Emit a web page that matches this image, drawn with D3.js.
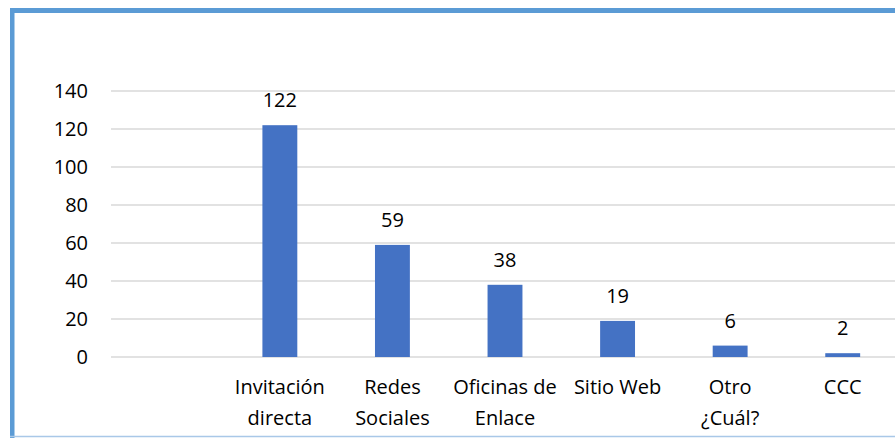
<!DOCTYPE html>
<html>
<head>
<meta charset="utf-8">
<script src="https://cdn.jsdelivr.net/npm/d3@7"></script>
<style>
  body { margin: 0; background: #fff; }
  svg { display: block; font-family: "Open Sans", Lato, sans-serif; }
</style>
</head>
<body>
<div id="chart"></div>
<script>
// categories (first slot is empty in the original chart)
var categories = ["", "Invitación\ndirecta", "Redes\nSociales", "Oficinas de\nEnlace", "Sitio Web", "Otro\n¿Cuál?", "CCC"];
var values = [null, 122, 59, 38, 19, 6, 2];
var yTicks = [0, 20, 40, 60, 80, 100, 120, 140];

var width = 895, height = 438;
var margin = {top: 91, left: 111, bottom: 81};
var plotW = 788;                       // runs past the right edge like the original
var plotH = height - margin.top - margin.bottom;
var fontSize = 20;

var svg = d3.select("#chart").append("svg")
    .attr("width", width)
    .attr("height", height);

// frame (left, top, bottom lines only)
svg.append("rect").attr("x", 10).attr("y", 8).attr("width", 4.5).attr("height", height - 8).attr("fill", "#5b9bd5");
svg.append("rect").attr("x", 10).attr("y", 8).attr("width", width - 10).attr("height", 5).attr("fill", "#5b9bd5");
svg.append("line").attr("x1", 10).attr("x2", width).attr("y1", 436.5).attr("y2", 436.5)
   .attr("stroke", "#a9c8e8").attr("stroke-width", 1.5);

var g = svg.append("g").attr("transform", "translate(" + margin.left + "," + margin.top + ")");

var x = d3.scaleBand()
    .domain(categories)
    .range([0, plotW])
    .paddingInner(0.69)
    .paddingOuter(0.345);

var y = d3.scaleLinear()
    .domain([0, 140])
    .range([plotH, 0]);

// gridlines
g.append("g").selectAll("line")
  .data(yTicks)
  .enter().append("line")
    .attr("x1", 0).attr("x2", plotW)
    .attr("y1", function(d) { return y(d); })
    .attr("y2", function(d) { return y(d); })
    .attr("stroke", "#d9d9d9")
    .attr("stroke-width", 1.5);

// y axis labels
var yAxis = d3.axisLeft(y).tickValues(yTicks).tickSize(0).tickPadding(23);
g.append("g").call(yAxis)
  .call(function(s) { s.select(".domain").remove(); })
  .selectAll("text")
    .attr("font-size", fontSize)
    .attr("font-family", "'Open Sans', sans-serif")
    .attr("fill", "#000");

var data = categories.map(function(c, i) { return {cat: c, val: values[i]}; })
  .filter(function(d) { return d.val !== null; });

// bars
g.selectAll("rect.bar")
  .data(data)
  .enter().append("rect")
    .attr("class", "bar")
    .attr("x", function(d) { return x(d.cat); })
    .attr("width", x.bandwidth())
    .attr("y", function(d) { return y(d.val); })
    .attr("height", function(d) { return plotH - y(d.val); })
    .attr("fill", "#4472c4");

// value labels
g.selectAll("text.val")
  .data(data)
  .enter().append("text")
    .attr("class", "val")
    .attr("x", function(d) { return x(d.cat) + x.bandwidth() / 2; })
    .attr("y", function(d) { return y(d.val) - 18; })
    .attr("text-anchor", "middle")
    .attr("font-size", fontSize)
    .attr("fill", "#000")
    .text(function(d) { return d.val; });

// category labels
var catLabels = g.selectAll("text.cat")
  .data(data)
  .enter().append("text")
    .attr("class", "cat")
    .attr("text-anchor", "middle")
    .attr("font-size", fontSize)
    .attr("fill", "#000")
    .attr("transform", function(d) {
      return "translate(" + (x(d.cat) + x.bandwidth() / 2) + "," + (plotH + 37) + ")";
    });

catLabels.selectAll("tspan")
  .data(function(d) { return d.cat.split("\n"); })
  .enter().append("tspan")
    .attr("x", 0)
    .attr("y", function(d, i) { return i * 31; })
    .text(function(d) { return d; });
</script>
</body>
</html>
